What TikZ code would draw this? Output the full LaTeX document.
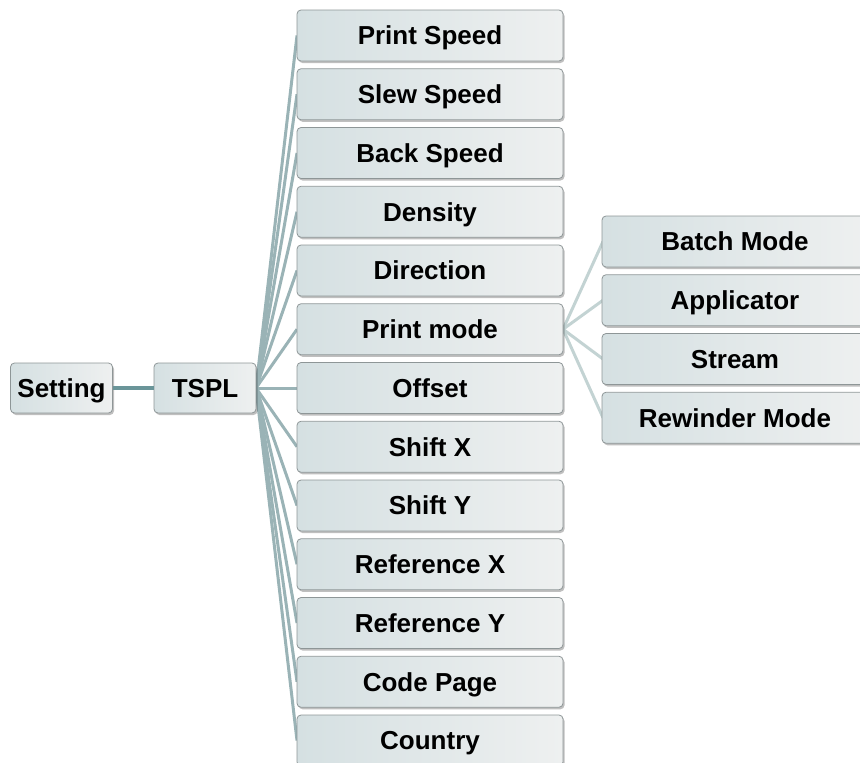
\documentclass[tikz,border=0pt]{standalone}
\usepackage{fontspec}
\setmainfont{Liberation Sans}
\usetikzlibrary{shadows}
\definecolor{boxL}{HTML}{D5E0E2}
\definecolor{boxR}{HTML}{EEF0F0}
\definecolor{boxB}{HTML}{8E9697}
\definecolor{lineA}{HTML}{6A9599}
\definecolor{lineB}{HTML}{9AB3B6}
\definecolor{lineC}{HTML}{C3D3D3}
\tikzset{
  boxnode/.style={draw=boxB, line width=0.8pt, rounded corners=4pt,
    left color=boxL, right color=boxR,
    drop shadow={shadow xshift=1.5pt, shadow yshift=-2pt, opacity=0.25, fill=black},
    font=\fontsize{26}{30}\selectfont\bfseries, text=black,
    inner sep=0pt, minimum height=51pt, text height=18.6pt, text depth=0pt},
  rootbox/.style={boxnode, minimum width=102pt, minimum height=50pt},
  leafbox/.style={boxnode, minimum width=266pt},
  mainline/.style={draw=lineA, line width=4pt},
  fanline/.style={draw=lineB, line width=3pt},
  subline/.style={draw=lineC, line width=3pt}
}
\begin{document}
\begin{tikzpicture}[x=1pt,y=-1pt]
\useasboundingbox (0,0) rectangle (860,763);
% connectors first (drawn below boxes)
\coordinate (tsplR) at (256,388);
\coordinate (pmR) at (563,329.25);
\foreach \i/\nm in {0/ps,1/ss,2/bs,3/de,4/di,5/pm,6/of,7/sx,8/sy,9/rx,10/ry,11/cp,12/co}{
  \coordinate (c\nm) at (297,35.5+\i*58.75);
  \draw[fanline] (tsplR) -- (c\nm);
}
\foreach \i/\nm in {0/bm,1/ap,2/st,3/rw}{
  \coordinate (s\nm) at (603,241.5+\i*58.75);
  \draw[subline] (pmR) -- (s\nm);
}
\node[rootbox] (setting) at (61.5,388) {Setting};
\node[rootbox] (tspl) at (205,388) {TSPL};
\draw[mainline] (setting.east) -- (tspl.west);
\foreach \i/\nm/\txt in {0/ps/Print Speed,1/ss/Slew Speed,2/bs/Back Speed,3/de/Density,4/di/Direction,5/pm/Print mode,6/of/Offset,7/sx/Shift X,8/sy/Shift Y,9/rx/Reference X,10/ry/Reference Y,11/cp/Code Page,12/co/Country}{
  \node[leafbox] (n\nm) at (430,35.5+\i*58.75) {\txt};
}
\foreach \i/\nm/\txt in {0/bm/Batch Mode,1/ap/Applicator,2/st/Stream,3/rw/Rewinder Mode}{
  \node[leafbox] (m\nm) at (735,241.5+\i*58.75) {\txt};
}
\end{tikzpicture}
\end{document}
